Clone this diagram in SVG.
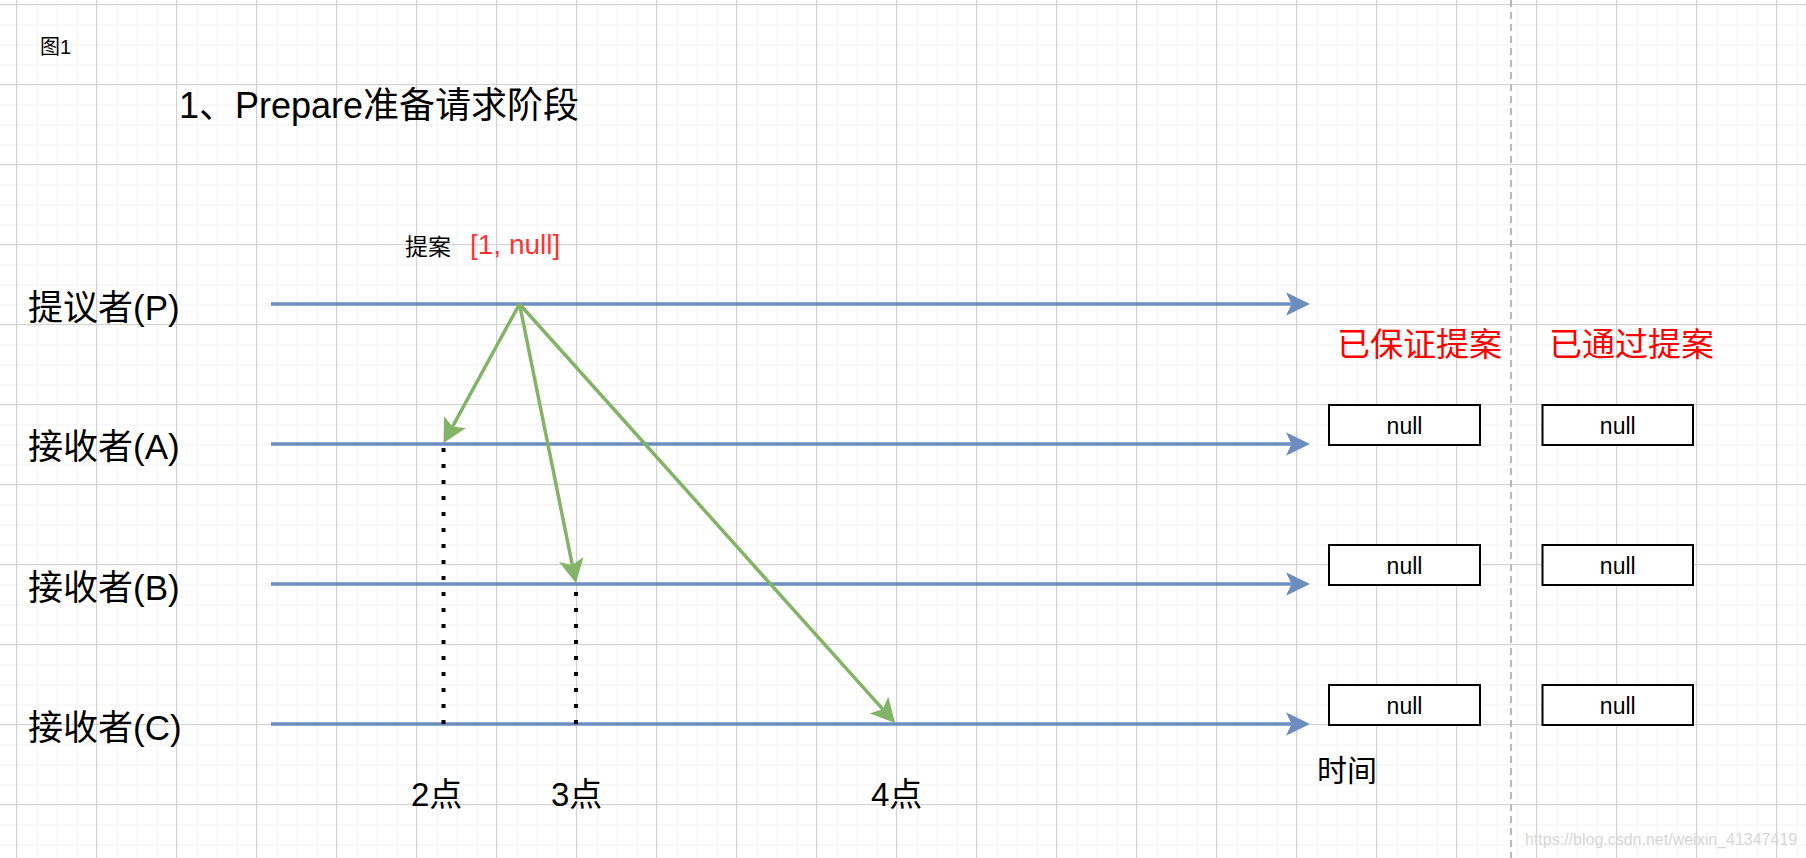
<svg xmlns="http://www.w3.org/2000/svg" width="1806" height="858" viewBox="0 0 1806 858">
  <defs>
    <pattern id="minor" patternUnits="userSpaceOnUse" x="16.5" y="4.5" width="20" height="20">
      <path d="M0,0 H20 M0,0 V20" fill="none" stroke="#f3f3f3" stroke-width="2"/>
    </pattern>
    <pattern id="major" patternUnits="userSpaceOnUse" x="16" y="4" width="80" height="80">
      <path d="M0.5,0 V80 M0,0.5 H80" fill="none" stroke="#d2d2d2" stroke-width="1.2"/>
    </pattern>
    <marker id="arrBlue" markerUnits="userSpaceOnUse" markerWidth="24" markerHeight="24" viewBox="0 0 24 24" refX="5.5" refY="12" orient="auto">
      <path d="M24,12 L0,0.3 L5.5,12 L0,23.7 Z" fill="#6c8ebf"/>
    </marker>
    <marker id="arrGreen" markerUnits="userSpaceOnUse" markerWidth="24" markerHeight="26" viewBox="0 0 24 26" refX="5.5" refY="13" orient="auto">
      <path d="M24,13 L0,0.5 L5.5,13 L0,25.5 Z" fill="#82b366"/>
    </marker>
    <style>
      text { font-family: "Liberation Sans", "Noto Sans CJK SC", sans-serif; fill: #000; }
      .life { fill: none; stroke: #6c8ebf; stroke-width: 3.5; marker-end: url(#arrBlue); }
      .msg { fill: none; stroke: #82b366; stroke-width: 3.5; marker-end: url(#arrGreen); }
      .dot { fill: none; stroke: #000; stroke-width: 4; stroke-dasharray: 4 12; }
      .box { fill: #fff; stroke: #000; stroke-width: 2; }
      .lbl { font-size: 35px; }
      .pt { font-size: 33px; }
      .hdr { font-size: 33px; fill: #ff0000; }
      .nul { font-size: 23px; text-anchor: middle; }
    </style>
  </defs>

  <g id="background">
    <rect width="1806" height="858" fill="#ffffff"/>
    <rect width="1806" height="858" fill="url(#minor)"/>
    <rect width="1806" height="858" fill="url(#major)"/>
    <line x1="1511" y1="0" x2="1511" y2="858" stroke="#b8b8b8" stroke-width="2" stroke-dasharray="7 5"/>
  </g>

  <g id="titles">
    <text x="40" y="54" font-size="20">图1</text>
    <text x="179" y="118" font-size="36">1、Prepare准备请求阶段</text>
  </g>

  <g id="connectors">
    <path class="life" d="M271,304 H1291.5"/>
    <path class="life" d="M271,444 H1291.5"/>
    <path class="life" d="M271,584 H1291.5"/>
    <path class="life" d="M271,724 H1291.5"/>
    <path class="dot" d="M443.5,448 V724"/>
    <path class="dot" d="M576,592 V724"/>
    <path class="msg" d="M519.5,304 L452.4,426.8"/>
    <path class="msg" d="M519.5,304 L572.3,564.9"/>
    <path class="msg" d="M519.5,304 L882.7,709.2"/>
  </g>

  <g id="proposal-label">
    <text x="405" y="255" font-size="23">提案</text>
    <text x="470" y="254" font-size="28" style="fill:#ff3333">[1, null]</text>
  </g>

  <g id="node-P"><text class="lbl" x="28" y="320">提议者(P)</text></g>
  <g id="node-A"><text class="lbl" x="28" y="459">接收者(A)</text></g>
  <g id="node-B"><text class="lbl" x="28" y="600">接收者(B)</text></g>
  <g id="node-C"><text class="lbl" x="28" y="740">接收者(C)</text></g>

  <g id="points">
    <text class="pt" x="411" y="806">2点</text>
    <text class="pt" x="551" y="806">3点</text>
    <text class="pt" x="871" y="806">4点</text>
    <text x="1317" y="781" font-size="30">时间</text>
  </g>

  <g id="headers">
    <text class="hdr" x="1337" y="356">已保证提案</text>
    <text class="hdr" x="1549" y="356">已通过提案</text>
  </g>

  <g id="guaranteed-A"><rect class="box" x="1329" y="405" width="151" height="40"/><text class="nul" x="1404.5" y="434">null</text></g>
  <g id="passed-A"><rect class="box" x="1542.5" y="405" width="150.5" height="40"/><text class="nul" x="1617.75" y="434">null</text></g>
  <g id="guaranteed-B"><rect class="box" x="1329" y="545" width="151" height="40"/><text class="nul" x="1404.5" y="574">null</text></g>
  <g id="passed-B"><rect class="box" x="1542.5" y="545" width="150.5" height="40"/><text class="nul" x="1617.75" y="574">null</text></g>
  <g id="guaranteed-C"><rect class="box" x="1329" y="685" width="151" height="40"/><text class="nul" x="1404.5" y="714">null</text></g>
  <g id="passed-C"><rect class="box" x="1542.5" y="685" width="150.5" height="40"/><text class="nul" x="1617.75" y="714">null</text></g>

  <g id="watermark">
    <text x="1525" y="845" font-size="16" style="fill:#d6d6d6">https://blog.csdn.net/weixin_41347419</text>
  </g>
</svg>
